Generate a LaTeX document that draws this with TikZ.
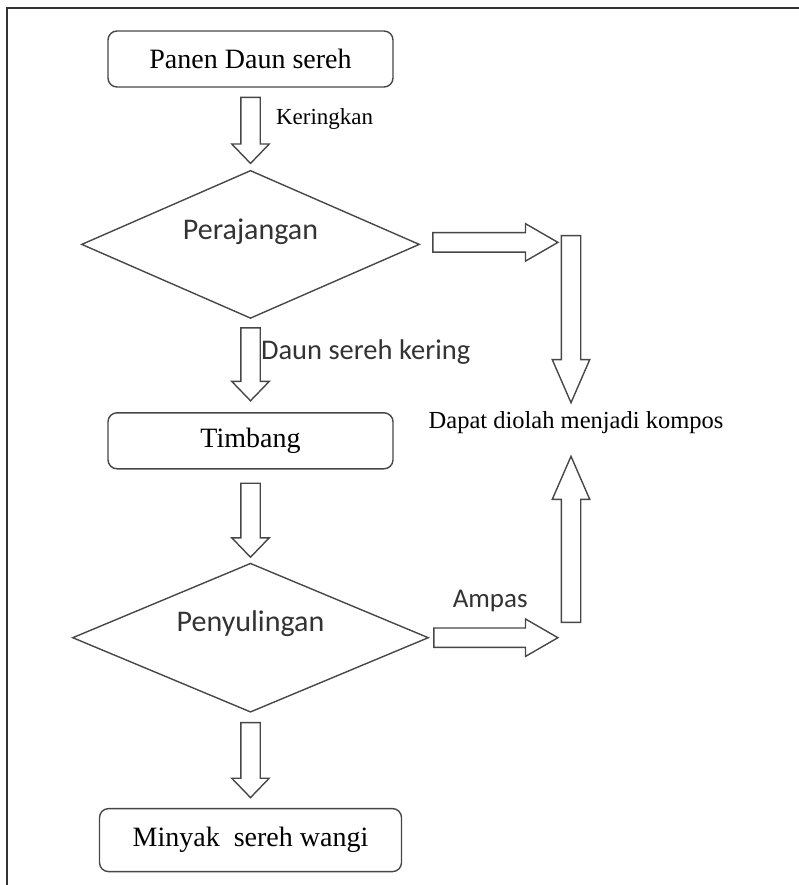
\documentclass[tikz,border=0pt]{standalone}
\usepackage{fontspec}
\setmainfont{Liberation Serif}
\newfontfamily\calfont{Carlito}
\usetikzlibrary{positioning}
\usetikzlibrary{shapes.geometric}
\usetikzlibrary{shapes.arrows}

\begin{document}
\begin{tikzpicture}[
    x=1pt, y=-1pt,
    node distance=82pt,
    linecol/.style={draw=black!72, line width=1.4pt},
    mybox/.style={linecol, rounded corners=9pt, inner sep=0pt,
      minimum width=285pt, minimum height=56pt, font=\fontsize{28}{31}\selectfont},
    mydiamond/.style={linecol, diamond, inner sep=0pt,
      minimum width=338pt, minimum height=148pt},
    sanstext/.style={font=\calfont\fontsize{28.5}{31}\selectfont, text=black!80},
    smalltext/.style={font=\fontsize{24.5}{27}\selectfont},
    fat/.style={linecol, single arrow, inner xsep=0pt, inner ysep=9pt, anchor=tail,
      single arrow head extend=9pt, single arrow tip angle=60},
    downfat/.style={fat, rotate=-90, single arrow tip angle=88},
    colfat/.style={fat, single arrow tip angle=47}
    ]

    \useasboundingbox (0,0) rectangle (799,885);
    \draw[draw=black!80, line width=1.8pt] (7,885) -- (7,8) -- (799,8);

    \node[mybox] (panen) at (250.5,59) {Panen Daun sereh};
    \node[mydiamond, below=of panen,
      label={[sanstext, font=\calfont\fontsize{30}{32}\selectfont, yshift=13pt]center:Perajangan}] (rajang) {};
    \node[mybox, below=93pt of rajang] (timbang) {Timbang};
    \node[mydiamond, minimum width=356pt, minimum height=149pt, below=93pt of timbang,
      label={[sanstext, font=\calfont\fontsize{30}{32}\selectfont, yshift=14pt]center:Penyulingan}] (suling) {};
    \node[mybox, minimum width=302pt, minimum height=63pt, below=95pt of suling]
      (minyak) {Minyak\ \ sereh wangi};

    \coordinate (wtop) at (571,235);
    \coordinate (wbot) at (571,623);
    \node[smalltext] (kompos) at (576,423) {Dapat diolah menjadi kompos};

    % down arrows are rotated, so xshift moves them down
    \path (panen) -- node[downfat, pos=0, xshift=9pt, minimum height=66pt] (a1) {} (rajang);
    \path (rajang) -- node[downfat, pos=0, xshift=8pt, minimum height=73pt] (a2) {} (timbang);
    \path (timbang) -- node[downfat, pos=0, xshift=13pt, minimum height=74pt] (a3) {} (suling);
    \path (suling) -- node[downfat, pos=0, xshift=9pt, minimum height=75pt] (a4) {} (minyak);
    \path (rajang.east) -- node[fat, pos=0, xshift=12pt, yshift=2pt, minimum height=125pt] (a5) {} (wtop |- rajang.east);
    \path (suling.east) -- node[fat, pos=0, xshift=4pt, minimum height=124pt] (a6) {} (wbot |- suling.east);
    \node[colfat, rotate=-90, minimum height=167pt] (a7) at (wtop) {};
    \node[colfat, rotate=90, minimum height=166pt] (a8) at (wbot) {};

    \node[smalltext, font=\fontsize{23}{26}\selectfont, anchor=west] (kering)
      at ([xshift=22pt, yshift=-22pt]a1.tail) {Keringkan};
    \node[sanstext, anchor=west] (dsk) at ([xshift=7pt, yshift=-25pt]a2.tail) {Daun sereh kering};
    \node[sanstext, font=\calfont\fontsize{27}{30}\selectfont] (ampas)
      at ([xshift=57pt, yshift=37pt]a6.tail) {Ampas};

  \end{tikzpicture}
\end{document}
